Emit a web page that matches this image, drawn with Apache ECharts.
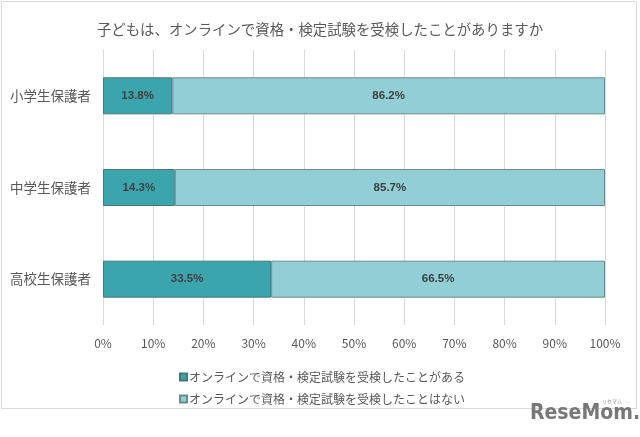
<!DOCTYPE html>
<html><head><meta charset="utf-8">
<script src="https://cdn.jsdelivr.net/npm/echarts@6/dist/echarts.min.js"></script>
<style>html,body{margin:0;padding:0;background:#fff}#c{width:640px;height:437px}</style>
</head><body><div id="c"></div>
<script>
const title = '子どもは、オンラインで資格・検定試験を受検したことがありますか';
const categories = ['小学生保護者', '中学生保護者', '高校生保護者'];
const seriesNames = ['オンラインで資格・検定試験を受検したことがある', 'オンラインで資格・検定試験を受検したことはない'];
const hasTaken = [13.8, 14.3, 33.5];
const notTaken = [86.2, 85.7, 66.5];
const colors = ['#3ba5ae', '#92ced5'];
const FONT = '"Noto Sans CJK JP", "Noto Sans", sans-serif';

const chart = echarts.init(document.getElementById('c'), null, {renderer: 'canvas'});
chart.setOption({
  animation: false,
  textStyle: {fontFamily: FONT},
  title: {text: title, left: 'center', top: 17, textStyle: {fontSize: 14.4, fontWeight: 'normal', color: '#595959', fontFamily: FONT}},
  grid: {left: 103, right: 35, top: 50, bottom: 112},
  xAxis: {type: 'value', min: 0, max: 100, interval: 10,
    axisLabel: {formatter: '{value}%', color: '#595959', fontSize: 12, margin: 12, fontFamily: FONT},
    splitLine: {lineStyle: {color: '#d9d9d9', width: 1}},
    axisLine: {show: false}, axisTick: {show: false}},
  yAxis: {type: 'category', data: categories, inverse: true,
    axisLabel: {color: '#595959', fontSize: 13.5, margin: 12, fontFamily: FONT},
    axisLine: {show: false}, axisTick: {show: false}},
  legend: {orient: 'vertical', left: 174, top: 366, itemWidth: 7, itemHeight: 7, itemGap: 10,
    icon: 'rect', textStyle: {color: '#595959', fontSize: 12, padding: [0,0,0,-3], fontFamily: FONT},
    data: seriesNames},
  series: [
    {name: seriesNames[0], type: 'bar', stack: 't', data: hasTaken, barWidth: 37,
     itemStyle: {color: colors[0], borderColor: '#4f7478', borderWidth: 1},
     label: {show: true, position: 'inside', formatter: p => p.value.toFixed(1) + '%', color: '#404040', fontWeight: 'bold', fontSize: 11.5, fontFamily: 'Liberation Sans, Arial, sans-serif'}},
    {name: seriesNames[1], type: 'bar', stack: 't', data: notTaken, barWidth: 37,
     itemStyle: {color: colors[1], borderColor: '#6a8a8e', borderWidth: 1},
     label: {show: true, position: 'inside', formatter: p => p.value.toFixed(1) + '%', color: '#404040', fontWeight: 'bold', fontSize: 11.5, fontFamily: 'Liberation Sans, Arial, sans-serif'}}
  ],
  graphic: [
    {type: 'rect', shape: {x: 1.5, y: 1.5, width: 635, height: 407}, style: {fill: 'none', stroke: '#d9d9d9', lineWidth: 1}, z: -1},
    {type: 'text', left: 530, top: 403, style: {text: 'ReseMom.', fill: '#777777', font: 'bold 21px "Liberation Sans Narrow", "DejaVu Sans Condensed", sans-serif'}},
    {type: 'text', left: 602, top: 399, style: {text: 'リセマム', fill: '#8a8a8a', font: '5px "Noto Sans CJK JP"'}}
  ]
});
</script></body></html>
